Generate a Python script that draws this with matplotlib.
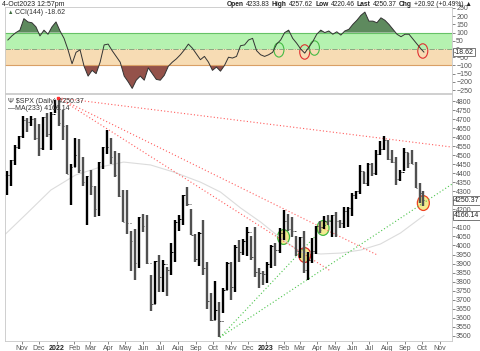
import matplotlib
matplotlib.use("Agg")
import matplotlib.pyplot as plt
import matplotlib.dates as mdates
from matplotlib.patches import Ellipse
import pandas as pd

plt.rcParams['font.family'] = ['Liberation Sans', 'DejaVu Sans']

# weekly bars of $SPX (week ending), last one is the partial week to 4-Oct-2023
week_end = list(pd.date_range("2021-10-08", "2023-09-29", freq="W-FRI")) + [pd.Timestamp("2023-10-04")]

highs = [4412, 4475, 4559, 4608, 4718, 4708, 4717, 4705, 4672, 4713, 4731, 4740, 4808,
         4818, 4749, 4669, 4453, 4595, 4590, 4490, 4386, 4416, 4327, 4465, 4546, 4637,
         4593, 4521, 4513, 4308, 4307, 4081, 4090, 4158, 4177, 4168, 3838, 3913, 3950,
         3918, 3880, 4013, 4140, 4167, 4281, 4325, 4203, 4062, 4076, 4140, 3908, 3736,
         3806, 3685, 3762, 3906, 3911, 4001, 4028, 4034, 4100, 4052, 4101, 3878, 3859,
         3906, 4004, 4016, 4095, 4195, 4176, 4160, 4050, 4049, 4079, 3964, 4039, 4110,
         4133, 4164, 4170, 4170, 4187, 4142, 4212, 4212, 4290, 4299, 4448, 4409, 4458,
         4456, 4527, 4578, 4607, 4584, 4527, 4490, 4418, 4541, 4511, 4527, 4462, 4344,
         4300]
lows = [4278, 4329, 4447, 4537, 4595, 4630, 4662, 4585, 4495, 4529, 4600, 4531, 4733,
        4662, 4582, 4395, 4222, 4436, 4403, 4328, 4115, 4279, 4157, 4162, 4424, 4507,
        4450, 4381, 4267, 4128, 4062, 3859, 3811, 3875, 4074, 3900, 3637, 3675, 3741,
        3742, 3722, 3835, 3911, 4080, 4112, 4218, 4057, 3907, 3886, 3838, 3647, 3584,
        3585, 3491, 3628, 3753, 3699, 3745, 3906, 3945, 3940, 3918, 3828, 3765, 3783,
        3794, 3877, 3886, 3960, 4031, 4080, 4048, 3944, 3928, 3847, 3809, 3901, 3951,
        4069, 4089, 4114, 4049, 4048, 4099, 4098, 4103, 4166, 4260, 4286, 4341, 4328,
        4385, 4393, 4503, 4528, 4474, 4458, 4335, 4356, 4414, 4430, 4449, 4316, 4238,
        4216]
closes = [4391, 4471, 4545, 4605, 4697, 4683, 4698, 4595, 4538, 4712, 4620, 4726, 4766,
          4677, 4663, 4398, 4432, 4501, 4419, 4349, 4385, 4329, 4204, 4463, 4543, 4546,
          4488, 4393, 4272, 4132, 4123, 4024, 3901, 4158, 4109, 3901, 3675, 3912, 3825,
          3899, 3863, 3962, 4130, 4145, 4280, 4228, 4058, 3924, 4067, 3873, 3693, 3586,
          3640, 3583, 3753, 3901, 3771, 3993, 3965, 4026, 4072, 3934, 3852, 3845, 3840,
          3895, 3999, 3973, 4071, 4136, 4090, 4079, 3970, 4046, 3862, 3917, 3971, 4109,
          4105, 4138, 4133, 4169, 4136, 4124, 4192, 4205, 4282, 4299, 4410, 4348, 4450,
          4399, 4505, 4536, 4582, 4478, 4464, 4370, 4406, 4516, 4457, 4450, 4320, 4288,
          4250.37]

cci = [55, 80, 100, 115, 185, 165, 160, 135, 80, 115, 90, 135, 165,
       110, 65, -5, -90, -20, -5, -105, -165, -130, -150, -80, 25, 30,
       -10, -45, -80, -165, -200, -240, -190, -165, -190, -115, -150, -185, -190,
       -160, -105, -80, -60, -35, -5, 30, 5, -30, -65, -45, -80, -130,
       -110, -135, -100, -50, -55, -45, 20, 25, 55, 65, -10, -35, -45,
       -35, -20, 30, 55, 100, 115, 65, 35, 0, -25, 10, 45, 90,
       115, 100, 110, 90, 105, 85, 110, 120, 150, 175, 205, 225, 170,
       170, 160, 190, 175, 150, 120, 90, 75, 90, 90, 60, 30, 0,
       -18.62]

ma_dates = ["2021-10-04", "2021-11-11", "2021-12-22", "2022-02-03", "2022-03-19",
            "2022-04-28", "2022-06-14", "2022-07-24", "2022-09-09", "2022-10-14",
            "2022-11-18", "2022-12-23", "2023-01-27", "2023-03-03", "2023-04-07",
            "2023-05-12", "2023-06-16", "2023-07-20", "2023-08-24", "2023-10-04"]
ma_vals = [4064, 4180, 4307, 4390, 4435, 4462, 4446, 4407, 4351, 4296,
           4208, 4130, 4041, 3964, 3953, 3958, 3975, 4008, 4069, 4166.14]

# trendlines (start date, start price, end date, end price)
red_lines = [("2022-01-04", 4818, "2023-11-22", 4545),
             ("2022-01-04", 4818, "2023-07-15", 3947),
             ("2022-01-04", 4818, "2023-04-24", 3859)]
green_lines = [("2022-10-13", 3491, "2023-04-24", 4141),
               ("2022-10-13", 3491, "2023-11-22", 4340)]

# highlighted spots: date, value, edge colour
price_marks = [("2023-02-01", 4047, "#44bb44"), ("2023-03-10", 3947, "#e03030"),
               ("2023-04-11", 4097, "#44bb44"), ("2023-10-03", 4235, "#ee4422")]
cci_marks = [("2023-01-24", -5, "#44bb44"), ("2023-03-10", -18, "#e03030"),
             ("2023-03-27", 6, "#44bb44"), ("2023-10-02", -12, "#e03030")]

month_ticks = pd.date_range("2021-11-01", "2023-11-01", freq="MS")

W, H = 480, 351
fig = plt.figure(figsize=(4.8, 3.51), dpi=100)
ax_c = fig.add_axes([5 / W, 1 - 93 / H, 447 / W, 86 / H])
ax_p = fig.add_axes([5 / W, 1 - 341 / H, 447 / W, 247 / H], sharex=ax_c)

x0 = mdates.date2num(pd.Timestamp("2021-10-03"))
x1 = mdates.date2num(pd.Timestamp("2023-11-22"))
xs = mdates.date2num([d - pd.Timedelta(days=2) for d in week_end])

for ax in (ax_c, ax_p):
    for s in ax.spines.values():
        s.set_color("#c8c8c8")
        s.set_linewidth(0.6)
    ax.yaxis.tick_right()
    ax.tick_params(axis="y", labelsize=5, length=2, width=0.5, colors="#555555", pad=1)
    ax.tick_params(axis="x", labelsize=5, length=2, width=0.5, colors="#555555", pad=1)
    ax.set_xlim(x0, x1)

# ---- CCI panel
ax_c.set_ylim(-268, 256)
ax_c.axhspan(0, 100, color="#b5f2b0", lw=0)
ax_c.axhspan(-100, 0, color="#f7dcb4", lw=0)
ax_c.axhline(100, color="#66c266", lw=0.8)
ax_c.axhline(-100, color="#d9a066", lw=0.8)
ax_c.axhline(0, color="#7aa07a", lw=0.6, ls="-.")
cx = mdates.date2num(week_end)
ax_c.fill_between(cx, 100, cci, where=[v > 100 for v in cci], interpolate=True,
                  color="#5e8a5e", lw=0)
ax_c.fill_between(cx, -100, cci, where=[v < -100 for v in cci], interpolate=True,
                  color="#94524a", lw=0)
ax_c.plot(cx, cci, color="#333333", lw=0.7)
ax_c.set_yticks(range(-250, 251, 50))
ax_c.tick_params(axis="x", labelbottom=False, length=0)
for d, v, ec in cci_marks:
    w = 10 / 0.573
    ax_c.add_patch(Ellipse((mdates.date2num(pd.Timestamp(d)), v), w, 88,
                           fill=False, ec=ec, lw=0.8))
ax_c.text(0.006, 0.94, "\u25b2", color="#3d6b3d", fontsize=4, transform=ax_c.transAxes, va="center")
ax_c.text(0.022, 0.94, "CCI(144) -18.62", color="#333333", fontsize=5,
          transform=ax_c.transAxes, va="center")
ax_c.annotate("-18.62", xy=(1.004, cci[-1]), xycoords=("axes fraction", "data"),
              fontsize=5, va="center", ha="left", color="#222222",
              bbox=dict(boxstyle="square,pad=0.12", fc="white", ec="#444444", lw=0.5),
              annotation_clip=False, zorder=5)

# ---- price panel
ax_p.set_ylim(3471, 4839)
ax_p.plot(mdates.date2num(pd.to_datetime(ma_dates)), ma_vals, color="#dcdcdc", lw=0.8)
for a, pa, b, pb in red_lines:
    ax_p.plot(mdates.date2num(pd.to_datetime([a, b])), [pa, pb],
              color="#ff5c5c", lw=0.8, ls=(0, (1, 2)))
for a, pa, b, pb in green_lines:
    ax_p.plot(mdates.date2num(pd.to_datetime([a, b])), [pa, pb],
              color="#4cc44c", lw=0.8, ls=(0, (1, 2)))
prev = closes[0]
for i in range(len(xs)):
    col = "black" if closes[i] >= prev else "#505050"
    ax_p.vlines(xs[i], lows[i], highs[i], color=col, lw=1.7)
    ax_p.hlines(prev, xs[i] - 2.4, xs[i], color=col, lw=0.7)
    ax_p.hlines(closes[i], xs[i], xs[i] + 2.4, color=col, lw=0.7)
    prev = closes[i]
ax_p.plot(mdates.date2num(pd.Timestamp("2022-01-04")), 4818, "s", color="#ff3030", ms=2)
for d, v, ec in price_marks:
    ax_p.add_patch(Ellipse((mdates.date2num(pd.Timestamp(d)), v), 12 / 0.573, 82,
                           fc="#f0e56a", alpha=0.75, ec="none"))
    ax_p.add_patch(Ellipse((mdates.date2num(pd.Timestamp(d)), v), 12 / 0.573, 82,
                           fill=False, ec=ec, lw=0.9))
ax_p.set_yticks(range(3500, 4801, 50))
ax_p.set_xticks(mdates.date2num(month_ticks))
labs = []
for d in month_ticks:
    labs.append(str(d.year) if d.month == 1 else d.strftime("%b"))
ax_p.set_xticklabels(labs)
for t, d in zip(ax_p.get_xticklabels(), month_ticks):
    if d.month == 1:
        t.set_fontweight("bold")
        t.set_color("#222222")
ax_p.text(0.006, 0.985, "\u03a8 $SPX (Daily) 4250.37", color="#333333", fontsize=5,
          transform=ax_p.transAxes, va="top")
ax_p.text(0.006, 0.955, "\u2014MA(233) 4166.14", color="#333333", fontsize=5,
          transform=ax_p.transAxes, va="top")
for val, txt in [(4250.37, "4250.37"), (4166.14, "4166.14")]:
    ax_p.annotate(txt, xy=(1.004, val), xycoords=("axes fraction", "data"),
                  fontsize=5, va="center", ha="left", color="#222222",
                  bbox=dict(boxstyle="square,pad=0.12", fc="white", ec="#444444", lw=0.5),
                  annotation_clip=False, zorder=5)

# ---- header row, right-aligned so it ends near x=472
fig.text(2 / W, 1 - 4 / H, "4-Oct2023 12:57pm", fontsize=5, va="center", color="#222222")
renderer = fig.canvas.get_renderer()
parts = [("Open", True), ("4233.83", False), ("High", True), ("4257.62", False),
         ("Low", True), ("4220.46", False), ("Last", True), ("4250.37", False),
         ("Chg", True), ("+20.92 (+0.49%) \u25b2", False)]
texts = []
for s, bold in parts:
    texts.append(fig.text(0, 1 - 4 / H, s, fontsize=4.8, va="center", color="#222222",
                          fontweight="bold" if bold else "normal"))
widths = [t.get_window_extent(renderer).width for t in texts]
xp = 472 - sum(widths) - 2.2 * (len(widths) - 1)
for t, w in zip(texts, widths):
    t.set_x(xp / W)
    xp += w + 2.2

fig.savefig("out.png", dpi=100, facecolor="white")
